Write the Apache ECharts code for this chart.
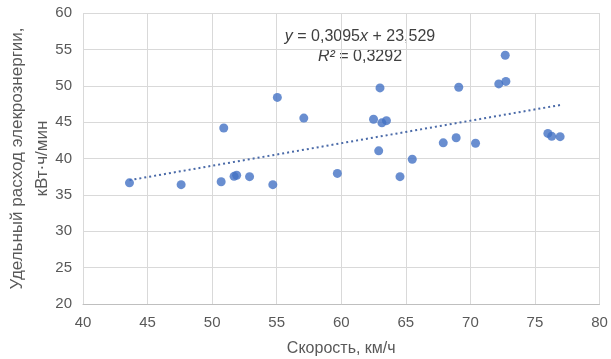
<!DOCTYPE html>
<html>
<head>
<meta charset="utf-8">
<script src="https://cdn.jsdelivr.net/npm/echarts@6/dist/echarts.min.js"></script>
<style>html,body{margin:0;padding:0;background:#fff}#c{width:611px;height:359px}</style>
</head>
<body>
<div id="c"></div>
<script>
const speed = [43.6, 47.6, 50.7, 50.9, 51.7, 51.9, 52.9, 54.7, 55.05, 57.1, 59.7, 62.5, 63.0, 62.9, 63.15, 63.5, 64.55, 65.5, 67.9, 68.9, 69.1, 70.4, 72.2, 72.75, 72.7, 76.0, 76.3, 76.95];
const energy = [36.65, 36.4, 36.8, 44.2, 37.55, 37.7, 37.5, 36.4, 48.4, 45.55, 37.95, 45.4, 49.7, 41.05, 44.9, 45.2, 37.5, 39.9, 42.15, 42.85, 49.8, 42.1, 50.25, 50.6, 54.2, 43.45, 43.05, 43.0];
const trendX = [43.6, 76.95];
const trendY = [37.02, 47.35];
const xTicks = [40, 80, 5];
const yTicks = [20, 60, 5];
const eqLine1 = ['y', ' = 0,3095', 'x', ' + 23,529'];
const eqLine2 = ['R²', ' = 0,3292'];
const xTitle = 'Скорость, км/ч';
const yTitle = 'Удельный расход элекрознергии,\nкВт·ч/мин';

const points = speed.map((v, i) => [v, energy[i]]);
const trend = trendX.map((v, i) => [v, trendY[i]]);
const font = 'Liberation Sans, Arial, sans-serif';

const chart = echarts.init(document.getElementById('c'), null, {renderer: 'canvas'});
chart.setOption({
  animation: false,
  grid: {left: 83, right: 11.5, top: 13, bottom: 55, containLabel: false, outerBoundsMode: 'none'},
  xAxis: {
    type: 'value', min: xTicks[0], max: xTicks[1], interval: xTicks[2],
    name: xTitle, nameLocation: 'middle', nameGap: 37, nameMoveOverlap: false,
    nameTextStyle: {fontFamily: font, fontSize: 16, color: '#595959'},
    axisLine: {show: true, lineStyle: {color: '#bfbfbf', width: 1}},
    axisTick: {show: false},
    axisLabel: {fontFamily: font, fontSize: 15, color: '#595959', margin: 11},
    splitLine: {show: true, lineStyle: {color: '#d9d9d9', width: 1}}
  },
  yAxis: {
    type: 'value', min: yTicks[0], max: yTicks[1], interval: yTicks[2],
    name: yTitle, nameLocation: 'middle', nameGap: 28, nameRotate: 90, nameMoveOverlap: false,
    nameTextStyle: {fontFamily: font, fontSize: 17, color: '#595959', lineHeight: 25},
    axisLine: {show: false},
    axisTick: {show: false},
    axisLabel: {fontFamily: font, fontSize: 15, color: '#595959', margin: 11},
    splitLine: {show: true, lineStyle: {color: '#d9d9d9', width: 1}}
  },
  series: [
    {
      type: 'line', data: trend, showSymbol: false, symbol: 'none',
      lineStyle: {color: '#4a6aa8', width: 2, type: [2, 3]},
      z: 2
    },
    {
      type: 'scatter', data: points, symbol: 'circle', symbolSize: 9,
      itemStyle: {color: '#4472C4'},
      z: 3
    }
  ],
  graphic: [
    {
      type: 'text',
      style: {
        text: '{i|' + eqLine1[0] + '}{n|' + eqLine1[1] + '}{i|' + eqLine1[2] + '}{n|' + eqLine1[3] + '}',
        x: 360, y: 37,
        align: 'center', verticalAlign: 'middle',
        rich: {
          i: {fontFamily: font, fontSize: 16, fontStyle: 'italic', fill: '#404040', color: '#404040'},
          n: {fontFamily: font, fontSize: 16, fill: '#404040', color: '#404040'}
        }
      }
    },
    {
      type: 'text',
      style: {
        text: '{i|' + eqLine2[0] + '}{n|' + eqLine2[1] + '}',
        x: 360, y: 57,
        align: 'center', verticalAlign: 'middle',
        rich: {
          i: {fontFamily: font, fontSize: 16, fontStyle: 'italic', fill: '#404040', color: '#404040'},
          n: {fontFamily: font, fontSize: 16, fill: '#404040', color: '#404040'}
        }
      }
    }
  ]
});
</script>
</body>
</html>
